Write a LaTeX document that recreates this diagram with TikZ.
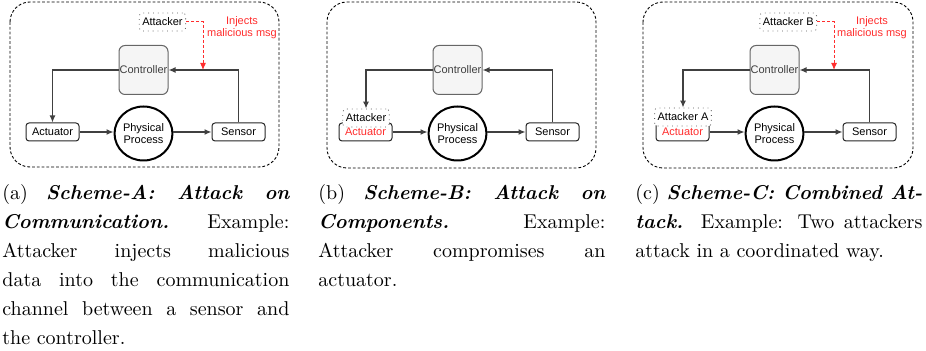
\documentclass[tikz,border=0pt]{standalone}
\usepackage{fontspec}
\setsansfont{Liberation Sans}
\usetikzlibrary{arrows.meta, shapes.geometric, calc}

\definecolor{atkred}{RGB}{255,45,45}
\definecolor{ctrlfill}{RGB}{245,245,245}
\definecolor{ctrlline}{RGB}{102,102,102}

\tikzset{
  frame/.style={draw, dash pattern=on 1.4pt off 1pt, line width=0.45pt, rounded corners=10pt},
  tiny/.style={font=\sffamily\fontsize{5.5}{6}\selectfont},
  ctrlbox/.style={tiny, draw=ctrlline, fill=ctrlfill, text=black!75, rounded corners=3pt,
    minimum width=24.5pt, minimum height=24.5pt, line width=0.5pt, inner sep=0pt},
  devbox/.style={tiny, draw=black!85, fill=white, rounded corners=1.5pt,
    minimum width=26.5pt, minimum height=9pt, line width=0.5pt, inner sep=0pt},
  procnode/.style={tiny, draw, ellipse, line width=1pt, minimum width=25pt,
    minimum height=27pt, inner sep=0pt, align=center},
  atkbox/.style={tiny, draw=black!65, dotted, fill=white, rounded corners=1.5pt,
    minimum height=9pt, inner xsep=1.5pt, inner ysep=1pt},
  link/.style={draw=black!75, line width=0.65pt, -{Latex[length=3.5pt,width=3pt]}},
  inject/.style={draw=atkred, dash pattern=on 1.5pt off 1pt, line width=0.5pt,
    -{Latex[length=3.5pt,width=3pt]}},
  note/.style={tiny, text=atkred, align=center},
  capt/.style={anchor=north west, text width=143.5pt, align=justify, inner sep=0pt,
    font=\fontsize{10}{14.5}\selectfont}
}

\begin{document}
\begin{tikzpicture}[x=0.5pt, y=-0.5pt]
  \useasboundingbox (0,0) rectangle (926,351);

  % (a) attack on communication
  \draw[frame] (10,2) rectangle (279,167);
  \node[ctrlbox] (ctrlA) at (143.5,70) {Controller};
  \node[devbox] (actA) at (52.5,132) {Actuator};
  \node[devbox] (senA) at (238.5,132) {Sensor};
  \node[procnode] (procA) at (143.5,133.5) {Physical\\Process};
  \node[atkbox, anchor=east] (atkA) at (186,22) {Attacker};
  \node[note] (noteA) at (242,28) {Injects\\malicious msg};
  \coordinate (hitA) at (203,70);
  \draw[link] (ctrlA.west) -| (actA.north);
  \draw[link] (actA.east) -- (actA.east -| procA.west);
  \draw[link] (procA.east |- senA.west) -- (senA.west);
  \draw[link] (senA.north) |- (ctrlA.east);
  \draw[inject] (atkA.east) -| (hitA);

  % (b) attack on components
  \draw[frame] (327,2) rectangle (596,168);
  \node[ctrlbox] (ctrlB) at (457.5,70) {Controller};
  \node[devbox, text=atkred] (actB) at (365.5,132) {Actuator};
  \node[atkbox] (atkB) at (366,118) {Attacker};
  \node[devbox] (senB) at (552.5,132) {Sensor};
  \node[procnode] (procB) at (457.5,133.5) {Physical\\Process};
  \draw[link] (ctrlB.west) -| (atkB.north);
  \draw[link] (actB.east) -- (actB.east -| procB.west);
  \draw[link] (procB.east |- senB.west) -- (senB.west);
  \draw[link] (senB.north) |- (ctrlB.east);

  % (c) combined attack
  \draw[frame] (643,2) rectangle (913,168);
  \node[ctrlbox] (ctrlC) at (774.5,70) {Controller};
  \node[devbox, text=atkred] (actC) at (682.5,132) {Actuator};
  \node[atkbox] (atkCa) at (683,117) {Attacker A};
  \node[devbox] (senC) at (869.5,132) {Sensor};
  \node[procnode] (procC) at (774.5,133.5) {Physical\\Process};
  \node[atkbox, anchor=east] (atkCb) at (817,22) {Attacker B};
  \node[note] (noteC) at (872,28) {Injects\\malicious msg};
  \coordinate (hitC) at (834,70);
  \draw[link] (ctrlC.west) -| (atkCa.north);
  \draw[link] (actC.east) -- (actC.east -| procC.west);
  \draw[link] (procC.east |- senC.west) -- (senC.west);
  \draw[link] (senC.north) |- (ctrlC.east);
  \draw[inject] (atkCb.east) -| (hitC);

  % captions
  \node[capt] (captA) at (2,184) {(a) \textbf{\textit{Scheme-A: Attack on\linebreak
    Communication.}} Example:\linebreak Attacker injects malicious\linebreak
    data into the communication\linebreak channel between a sensor and\linebreak
    the controller.};
  \node[capt] (captB) at (318,184) {(b) \textbf{\textit{Scheme-B: Attack on\linebreak
    Components.}} Example:\linebreak Attacker compromises an\linebreak actuator.};
  \node[capt] (captC) at (635,184) {(c) \textbf{\textit{Scheme-C: Combined At-\linebreak
    tack.}} Example: Two attackers\linebreak attack in a coordinated way.};
\end{tikzpicture}
\end{document}
